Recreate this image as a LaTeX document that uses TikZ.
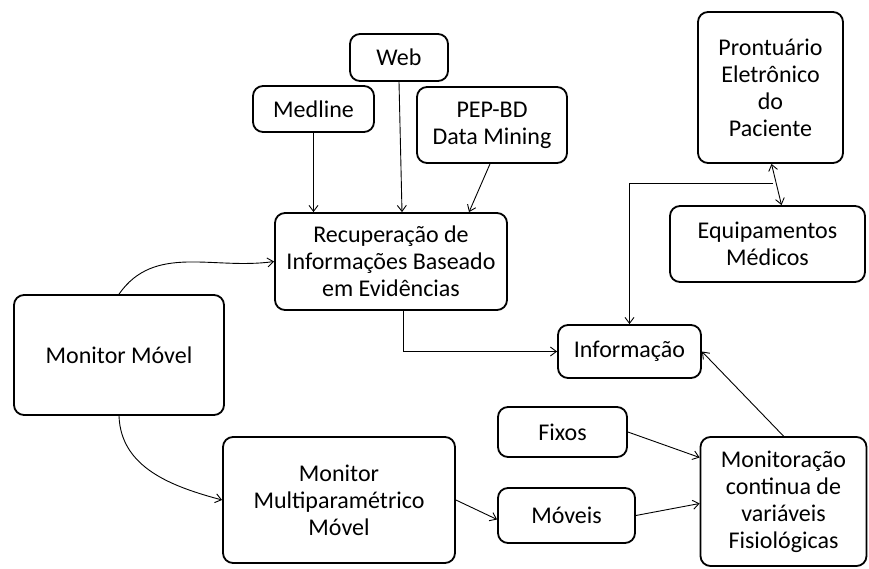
\documentclass[tikz,border=0pt]{standalone}
\usepackage{fontspec}
\setmainfont{Carlito}
\usetikzlibrary{arrows.meta}

\tikzset{
    box/.style={draw, line width=1.8pt, rounded corners=10pt, align=center,
        inner sep=2pt, font=\fontsize{24}{27}\selectfont},
    link/.style={line width=0.9pt, -{Straight Barb[length=6pt,width=9pt]}},
}

\begin{document}
\begin{tikzpicture}[x=1pt, y=1pt]
            \useasboundingbox (0,0) rectangle (869,568);

            % Sources
            \node [box, minimum width=98, minimum height=47] (web) at (399,510.5) {Web};
            \node [box, minimum width=121, minimum height=46] (medline) at (313.5,459) {Medline};
            \node [box, minimum width=150, minimum height=76] (pep) at (492,443) {PEP-BD\\Data Mining};
            \node [box, minimum width=232, minimum height=97] (recup) at (391,306.5) {Recuperação de\\Informações Baseado\\em Evidências};

            % Left side
            \node [box, minimum width=210, minimum height=120] (monmovel) at (119,213) {Monitor Móvel};
            \node [box, minimum width=232, minimum height=126] (multi) at (339,68) {Monitor\\Multiparamétrico\\Móvel};
            \node [box, minimum width=137, minimum height=55] (moveis) at (566.5,52.5) {Móveis};
            \node [box, minimum width=129, minimum height=50] (fixos) at (562.5,136) {Fixos};

            % Right side
            \node [box, minimum width=166, minimum height=129] (monit) at (783.5,66.5) {Monitoração\\continua de\\variáveis\\Fisiológicas};
            \node [box, minimum width=143, minimum height=53] (info) at (629.5,216.5) {Informação};
            \node [box, minimum width=145, minimum height=151] (pront) at (770.5,480.5) {Prontuário\\Eletrônico\\do\\Paciente};
            \node [box, minimum width=195, minimum height=76] (equip) at (767.5,324) {Equipamentos\\Médicos};

            % Arrows into Recuperacao
            \draw [link] (medline.south) -- (medline.south |- recup.north);
            \draw [link] (web.south) -- ([xshift=3pt]web.south |- recup.north);
            \draw [link] ([xshift=-2pt]pep.south) -- ([xshift=78pt]recup.north);

            \draw [link] (monmovel.north) to[out=55,in=188] (recup.west);
            \draw [link] (monmovel.south) to[out=-88,in=165] (multi.west);

            % Informacao
            \draw [link] ([xshift=12pt]recup.south) |- (info.west);
            \draw [link] (monit.north) -- (info.east);
            \draw [line width=0.9pt, {Straight Barb[length=6pt,width=9pt]}-{Straight Barb[length=6pt,width=9pt]}]
                ([xshift=1pt]pront.south) -- ([xshift=14pt]equip.north);
            \coordinate (join) at (773,385);
            \draw [link] (join) -| (info.north);

            % Into Monitoracao
            \draw [link] (multi.east) -- ([yshift=-4pt]moveis.west);
            \draw [link] (fixos.east) -- ([yshift=44pt]monit.west);
            \draw [link] (moveis.east) -- ([yshift=-2pt]monit.west);
        \end{tikzpicture}
\end{document}
